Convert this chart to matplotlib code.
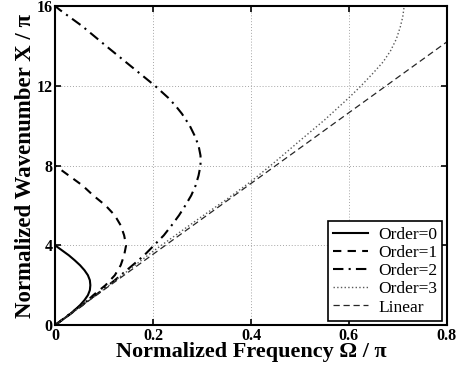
import numpy as np
import matplotlib.pyplot as plt

# Dispersion curves: normalized frequency (Omega/pi) vs normalized wavenumber (X/pi)
omega_0 = [0, 0.014, 0.028, 0.040, 0.051, 0.060, 0.067, 0.071, 0.072,
           0.071, 0.067, 0.060, 0.051, 0.040, 0.028, 0.014, 0]
x_0 = [0, 0.25, 0.5, 0.75, 1.0, 1.25, 1.5, 1.75, 2.0,
       2.25, 2.5, 2.75, 3.0, 3.25, 3.5, 3.75, 4.0]

omega_1 = [0, 0.028, 0.056, 0.078, 0.103, 0.122, 0.134, 0.141, 0.145,
           0.141, 0.134, 0.122, 0.103, 0.078, 0.056, 0.028, 0]
x_1 = [0, 0.5, 1.0, 1.5, 2.0, 2.5, 3.0, 3.5, 4.0,
       4.5, 5.0, 5.5, 6.0, 6.5, 7.0, 7.5, 8.0]

omega_2 = [0, 0.048, 0.088, 0.122, 0.163, 0.182, 0.202, 0.222, 0.238, 0.253,
           0.266, 0.278, 0.287, 0.293, 0.297, 0.297, 0.293, 0.285, 0.275,
           0.259, 0.246, 0.231, 0.204, 0.154, 0.104, 0.055, 0.01, 0]
x_2 = [0, 0.9, 1.6, 2.25, 3.1, 3.5, 4.0, 4.5, 5.0, 5.5,
       6.0, 6.5, 7.0, 7.5, 8.0, 8.5, 9.0, 9.5, 10.0,
       10.6, 11.0, 11.4, 12.0, 13.0, 14.0, 15.0, 15.8, 16.0]

omega_3 = [0, 0.1, 0.2, 0.3, 0.35, 0.4, 0.45, 0.5, 0.55, 0.6,
           0.625, 0.65, 0.67, 0.685, 0.697, 0.705, 0.71, 0.713]
x_3 = [0, 1.8, 3.7, 5.45, 6.3, 7.2, 8.2, 9.25, 10.28, 11.4,
       12.0, 12.65, 13.2, 13.75, 14.35, 14.95, 15.45, 16.0]

omega_lin = [0, 0.8]
x_lin = [0, 14.2]

xticks = [0, 0.2, 0.4, 0.6, 0.8]
yticks = [0, 4, 8, 12, 16]

plt.rcParams['font.family'] = ['Liberation Serif', 'DejaVu Serif']

fig = plt.figure(figsize=(4.63, 3.78), dpi=100)
ax = fig.add_axes([0.119, 0.140, 0.846, 0.844])

ax.plot(omega_0, x_0, 'k-', lw=1.5, label='Order=0')
ax.plot(omega_1, x_1, 'k--', lw=1.5, dashes=(4, 3), label='Order=1')
ax.plot(omega_2, x_2, 'k-.', lw=1.5, dashes=(5, 2.5, 1, 2.5), label='Order=2')
ax.plot(omega_3, x_3, ':', color='0.35', lw=1.0, label='Order=3')
ax.plot(omega_lin, x_lin, '--', color='0.15', lw=0.9, dashes=(5, 3), label='Linear')

ax.set_xlim(0, 0.8)
ax.set_ylim(0, 16)
ax.set_xticks(xticks)
ax.set_yticks(yticks)
ax.set_xticklabels([f'{t:g}' for t in xticks], fontweight='bold', fontsize=11.5)
ax.set_yticklabels([str(t) for t in yticks], fontweight='bold', fontsize=11.5)
ax.tick_params(direction='in', top=True, right=True, length=4, width=1.2, pad=2)
ax.grid(True, linestyle=(0, (1, 2)), color='0.65', lw=0.7)
for s in ax.spines.values():
    s.set_linewidth(1.5)

ax.set_xlabel('Normalized Frequency Ω / π', fontsize=16, fontweight='bold', labelpad=-1)
ax.set_ylabel('Normalized Wavenumber X / π', fontsize=16.5, fontweight='bold', labelpad=0)

leg = ax.legend(loc='lower right', fontsize=12.5, fancybox=False, framealpha=1,
                edgecolor='k', handlelength=2.0, borderaxespad=0.25,
                labelspacing=0.12, borderpad=0.3, handletextpad=0.6)
leg.get_frame().set_linewidth(1.2)

fig.savefig('out.png', dpi=100)
